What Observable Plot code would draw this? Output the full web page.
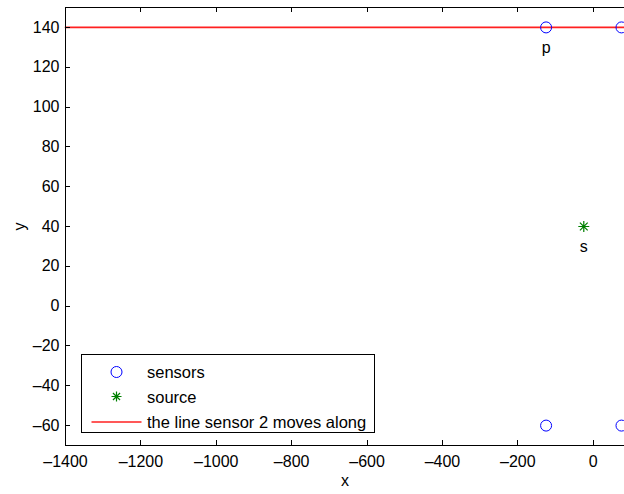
<!DOCTYPE html>
<html><head><meta charset="utf-8">
<script src="https://cdn.jsdelivr.net/npm/d3@7"></script>
<script src="https://cdn.jsdelivr.net/npm/@observablehq/plot@0.6"></script>
<style>
html,body{margin:0;padding:0;background:#fff;overflow:hidden}
#wrap{position:relative;width:624px;height:494px;overflow:hidden}
#legend{position:absolute;left:81px;top:354px}
</style></head><body><div id="wrap"></div>
<script>
// ---- data ----
const xTicks = [-1400, -1200, -1000, -800, -600, -400, -200, 0];
const yTicks = [-60, -40, -20, 0, 20, 40, 60, 80, 100, 120, 140];
const xDomain = [-1400, 83];
const yDomain = [-70, 150];
const sensorX = [-125, 75, -125, 75];
const sensorY = [140, 140, -60, -60];
const sourceX = [-25];
const sourceY = [40];
const lineX = [-1400, 83];
const lineY = [140, 140];
const pointLabels = ["p", "s"];
const pointLabelX = [-125, -25];
const pointLabelY = [140, 40];
const legendLabels = ["sensors", "source", "the line sensor 2 moves along"];
const xLabel = "x";
const yLabel = "y";

const sensors = sensorX.map((x, i) => ({x, y: sensorY[i]}));
const sources = sourceX.map((x, i) => ({x, y: sourceY[i]}));
const line = lineX.map((x, i) => ({x, y: lineY[i]}));
const labels = pointLabels.map((t, i) => ({t, x: pointLabelX[i], y: pointLabelY[i]}));
const fmt = d => String(d).replace("-", "\u2013");

const asterisk = {
  draw(ctx, size) {
    const r = Math.sqrt(size / Math.PI);
    const d = r * Math.SQRT1_2;
    ctx.moveTo(-r, 0); ctx.lineTo(r, 0);
    ctx.moveTo(0, -r); ctx.lineTo(0, r);
    ctx.moveTo(-d, -d); ctx.lineTo(d, d);
    ctx.moveTo(-d, d); ctx.lineTo(d, -d);
  }
};

const W = 624, H = 494, mL = 65, mR = 0, mT = 7, mB = 49;
const innerW = W - mL - mR, innerH = H - mT - mB;
const tk = 5;
const FONT = "'Liberation Sans', Arial, sans-serif";

const chart = Plot.plot({
  width: W, height: H,
  marginLeft: mL, marginRight: mR, marginTop: mT, marginBottom: mB,
  style: {fontSize: "16px", fontFamily: FONT, background: "white", color: "black"},
  x: {domain: xDomain, axis: null},
  y: {domain: yDomain, axis: null},
  marks: [
    Plot.line(line, {x: "x", y: "y", stroke: "#ff2020", strokeWidth: 1.6}),
    Plot.dot(sensors, {x: "x", y: "y", r: 5.5, stroke: "blue", fill: "none", strokeWidth: 1}),
    Plot.dot(sources, {x: "x", y: "y", r: 5.5, stroke: "green", fill: "none", strokeWidth: 1.2, symbol: asterisk}),
    Plot.text(labels, {x: "x", y: "y", text: "t", dy: 20, fill: "black", fontSize: 16}),
    Plot.ruleY([yDomain[0], yDomain[1]], {stroke: "black", strokeWidth: 1, shapeRendering: "crispEdges"}),
    Plot.ruleX([xDomain[0]], {stroke: "black", strokeWidth: 1, shapeRendering: "crispEdges"}),
    Plot.tickX(xTicks, {x: d => d, insetTop: innerH - tk, stroke: "black", shapeRendering: "crispEdges"}),
    Plot.tickX(xTicks, {x: d => d, insetBottom: innerH - tk, stroke: "black", shapeRendering: "crispEdges"}),
    Plot.tickY(yTicks, {y: d => d, insetRight: innerW - tk, stroke: "black", shapeRendering: "crispEdges"}),
    Plot.axisX({ticks: xTicks, tickFormat: fmt, tickSize: 0, tickPadding: 10, label: xLabel, labelAnchor: "center", labelOffset: 40, labelArrow: "none", fontSize: 16}),
    Plot.axisY({ticks: yTicks, tickFormat: fmt, tickSize: 0, tickPadding: 6, label: yLabel, labelAnchor: "center", labelOffset: 52, labelArrow: "none", fontSize: 16})
  ]
});
const wrap = document.getElementById("wrap");
wrap.appendChild(chart);

// legend
const lw = 293, lh = 78;
const leg = d3.create("svg").attr("id", "legend").attr("width", lw + 1).attr("height", lh + 1)
  .style("font-family", FONT).style("font-size", "16.5px");
leg.append("rect").attr("x", 0.5).attr("y", 0.5).attr("width", lw).attr("height", lh)
  .attr("fill", "white").attr("stroke", "black");
const rows = [18, 43, 68];
leg.append("circle").attr("cx", 35.5).attr("cy", rows[0]).attr("r", 5.5).attr("fill", "none").attr("stroke", "blue");
const ap = d3.path(); asterisk.draw(ap, 25 * Math.PI);
leg.append("path").attr("transform", `translate(35.5,${rows[1] - 0.5})`).attr("d", ap.toString()).attr("stroke", "green").attr("stroke-width", 1.2).attr("fill", "none");
leg.append("line").attr("x1", 10.5).attr("x2", 60.5).attr("y1", rows[2]).attr("y2", rows[2]).attr("stroke", "#ff2020").attr("stroke-width", 1.6);
legendLabels.forEach((t, i) => {
  leg.append("text").attr("x", 66).attr("y", rows[i]).attr("dy", "0.35em").text(t);
});
wrap.appendChild(leg.node());
</script></body></html>
